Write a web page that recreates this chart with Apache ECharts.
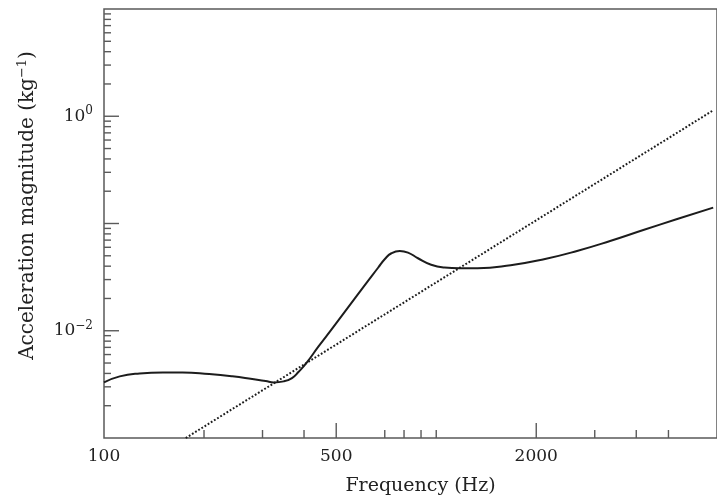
<!DOCTYPE html>
<html>
<head>
<meta charset="utf-8">
<script src="https://cdn.jsdelivr.net/npm/echarts@6/dist/echarts.min.js"></script>
<style>
  html, body { margin: 0; padding: 0; background: #fff; }
  #chart { width: 717px; height: 501px; }
</style>
</head>
<body>
<div id="chart"></div>
<script>
// Measured accelerance of the structure (solid curve)
const freqMeasured = [100, 111.5, 128, 150.3, 172.4, 207.3, 243.4, 279.4, 306.4, 324.4,
  347.5, 368, 385.4, 408, 442.3, 484.8, 569.6, 624.2, 668.3, 701.7,
  733, 776.7, 822.2, 881, 965.4, 1059, 1174, 1332, 1675, 2110,
  2653, 3337, 4201, 5284, 6818];
const accMeasured = [3.301e-3, 3.756e-3, 4.003e-3, 4.090e-3, 4.090e-3, 3.944e-3, 3.756e-3, 3.543e-3, 3.395e-3, 3.301e-3,
  3.373e-3, 3.620e-3, 4.143e-3, 5.069e-3, 7.141e-3, 1.035e-2, 2.012e-2, 2.927e-2, 3.868e-2, 4.690e-2,
  5.279e-2, 5.544e-2, 5.359e-2, 4.742e-2, 4.125e-2, 3.885e-2, 3.828e-2, 3.828e-2, 4.082e-2, 4.644e-2,
  5.547e-2, 6.872e-2, 8.701e-2, 0.1094, 0.1407];

// Asymptotic (stiffness-controlled) accelerance, dotted straight line
const freqAsymptote = [176.2, 6818];
const accAsymptote = [1.0e-3, 1.135];

// Axis ranges and tick marks
const X_MIN = 100, X_MAX = 7000;
const Y_MIN = 1e-3, Y_MAX = 10;
const xTickLabels = [100, 500, 2000];
const xMajorTicks = [500, 2000];
const xMinorTicks = [200, 300, 400, 700, 800, 900, 1000, 3000, 4000, 5000];
const yTickLabels = [1, 0.01];
const yMajorTicks = [0.01, 0.1, 1];
const yMinorTicks = [];
[-3, -2, -1, 0].forEach(function (d) {
  for (let k = 2; k <= 9; k++) yMinorTicks.push(k * Math.pow(10, d));
});

const FONT = '"DejaVu Serif", "Liberation Serif", serif';
const AXIS_GREY = '#5a5a5a';
const INK = '#1c1c1c';

const chart = echarts.init(document.getElementById('chart'), null, { renderer: 'canvas' });

function zip(a, b) { return a.map(function (v, i) { return [v, b[i]]; }); }

const xTickData = xMajorTicks.map(function (v) { return [v, Y_MIN, 1]; })
  .concat(xMinorTicks.map(function (v) { return [v, Y_MIN, 0]; }));
const yTickData = yMajorTicks.map(function (v) { return [X_MIN, v, 1]; })
  .concat(yMinorTicks.map(function (v) { return [X_MIN, v, 0]; }));

const supRich = {
  s: { fontFamily: FONT, fontSize: 12, verticalAlign: 'top', lineHeight: 12, color: '#222' }
};

function expText(v) {
  const e = Math.round(Math.log10(v));
  return '10{s|' + (e < 0 ? '\u2212' + (-e) : String(e)) + '}';
}

const option = {
  animation: false,
  backgroundColor: '#fff',
  grid: {
    left: 104, top: 9, width: 617, height: 430,
    show: true, borderColor: AXIS_GREY, borderWidth: 1.5, backgroundColor: 'transparent'
  },
  xAxis: {
    type: 'log', logBase: 10, min: X_MIN, max: X_MAX,
    axisLine: { show: false }, axisTick: { show: false },
    axisLabel: { show: false }, splitLine: { show: false },
    name: 'Frequency (Hz)', nameLocation: 'middle', nameGap: 39,
    nameTextStyle: { fontFamily: FONT, fontSize: 19, color: '#222', padding: [0, 0, 0, 20] }
  },
  yAxis: {
    type: 'log', logBase: 10, min: Y_MIN, max: Y_MAX,
    axisLine: { show: false }, axisTick: { show: false },
    axisLabel: { show: false }, splitLine: { show: false },
    name: 'Acceleration magnitude (kg{s|\u22121})', nameLocation: 'middle', nameGap: 64,
    nameTextStyle: {
      fontFamily: FONT, fontSize: 20, color: '#222', padding: [0, 0, 0, 36],
      lineHeight: 24,
      rich: { s: { fontFamily: FONT, fontSize: 13, verticalAlign: 'top', lineHeight: 13, color: '#222' } }
    }
  },
  series: [
    {
      type: 'line', data: zip(freqMeasured, accMeasured),
      smooth: 0.5, showSymbol: false, clip: true,
      lineStyle: { color: INK, width: 2 }
    },
    {
      type: 'line', data: zip(freqAsymptote, accAsymptote),
      showSymbol: false, clip: true,
      lineStyle: { color: INK, width: 2, type: [1.8, 1.9] }
    },
    {
      // tick marks on the frequency axis, pointing into the plot
      type: 'custom', data: xTickData, encode: { x: 0, y: 1 }, clip: false, silent: true,
      renderItem: function (params, api) {
        const p = api.coord([api.value(0), Y_MIN]);
        const len = api.value(2) ? 15 : 8;
        return {
          type: 'line',
          shape: { x1: p[0], y1: p[1], x2: p[0], y2: p[1] - len },
          style: { stroke: AXIS_GREY, lineWidth: 1.4 }
        };
      }
    },
    {
      // tick marks on the accelerance axis
      type: 'custom', data: yTickData, encode: { x: 0, y: 1 }, clip: false, silent: true,
      renderItem: function (params, api) {
        const p = api.coord([X_MIN, api.value(1)]);
        const len = api.value(2) ? 15 : 7;
        return {
          type: 'line',
          shape: { x1: p[0], y1: p[1], x2: p[0] + len, y2: p[1] },
          style: { stroke: AXIS_GREY, lineWidth: 1.4 }
        };
      }
    },
    {
      // frequency tick labels
      type: 'custom', data: xTickLabels.map(function (v) { return [v, Y_MIN]; }),
      encode: { x: 0, y: 1 }, clip: false, silent: true,
      renderItem: function (params, api) {
        const v = api.value(0);
        const p = api.coord([v, Y_MIN]);
        return {
          type: 'text', x: p[0], y: p[1] + 19,
          style: {
            text: String(v), fontFamily: FONT, fontSize: 17, fill: '#222',
            align: 'center', verticalAlign: 'middle'
          }
        };
      }
    },
    {
      // accelerance tick labels (powers of ten)
      type: 'custom', data: yTickLabels.map(function (v) { return [X_MIN, v]; }),
      encode: { x: 0, y: 1 }, clip: false, silent: true,
      renderItem: function (params, api) {
        const v = api.value(1);
        const p = api.coord([X_MIN, v]);
        return {
          type: 'text', x: p[0] - 11, y: p[1],
          style: {
            text: expText(v), fontFamily: FONT, fontSize: 17, fill: '#222',
            lineHeight: 22, align: 'right', verticalAlign: 'middle', rich: supRich
          }
        };
      }
    }
  ]
};

chart.setOption(option);
</script>
</body>
</html>
